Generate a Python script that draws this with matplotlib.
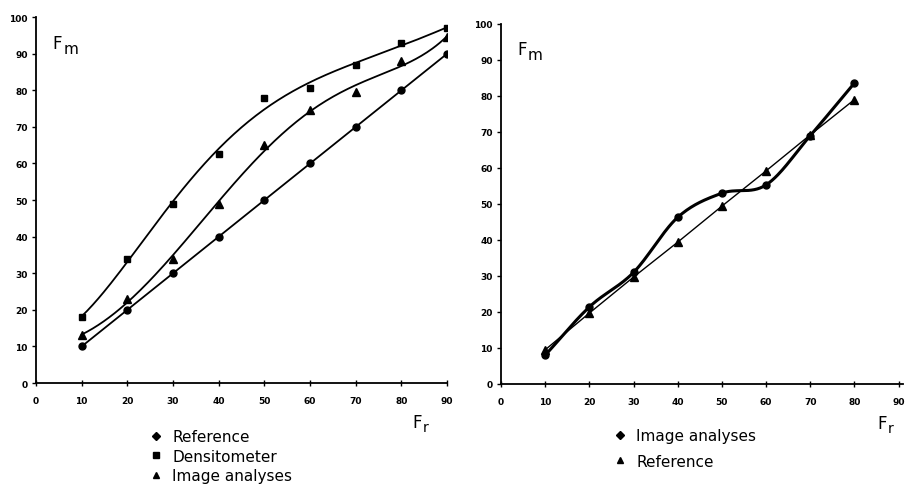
import numpy as np
from matplotlib import pyplot as plt
from matplotlib.lines import Line2D

# left panel
fr = [10, 20, 30, 40, 50, 60, 70, 80, 90]
reference = [10, 20, 30, 40, 50, 60, 70, 80, 90]
densitometer = [18, 34, 49, 62.5, 78, 80.5, 87, 93, 97]
image_left = [13, 23, 34, 49, 65, 74.5, 79.5, 88, 94.5]

# right panel
fr_right = [10, 20, 30, 40, 50, 60, 70, 80]
image_right = [8, 21.4, 31, 46.3, 53, 55.3, 69, 83.6]
reference_right = [9.5, 19.7, 29.7, 39.4, 49.4, 59.2, 69.2, 79]

ticks = [0, 10, 20, 30, 40, 50, 60, 70, 80, 90]
yticks = [0, 10, 20, 30, 40, 50, 60, 70, 80, 90, 100]


def smooth_fit(x, y, deg=5):
    coef = np.polyfit(x, y, deg)
    xs = np.linspace(min(x), max(x), 200)
    return xs, np.polyval(coef, xs)


def catmull_rom(x, y, n=30):
    x = np.asarray(x, float)
    y = np.asarray(y, float)
    px = np.concatenate([[2 * x[0] - x[1]], x, [2 * x[-1] - x[-2]]])
    py = np.concatenate([[2 * y[0] - y[1]], y, [2 * y[-1] - y[-2]]])
    xs, ys = [], []
    for i in range(1, len(px) - 2):
        t = np.linspace(0, 1, n, endpoint=False)
        for p, out in ((px, xs), (py, ys)):
            p0, p1, p2, p3 = p[i - 1], p[i], p[i + 1], p[i + 2]
            out.extend(0.5 * (2 * p1 + (p2 - p0) * t
                              + (2 * p0 - 5 * p1 + 4 * p2 - p3) * t ** 2
                              + (3 * p1 - p0 - 3 * p2 + p3) * t ** 3))
    xs.append(x[-1])
    ys.append(y[-1])
    return np.array(xs), np.array(ys)


def style_axes(ax, xmax):
    ax.set_xlim(0, xmax)
    ax.set_ylim(0, 100)
    ax.set_xticks(ticks)
    ax.set_yticks(yticks)
    for s in ['top', 'right']:
        ax.spines[s].set_visible(False)
    ax.spines['left'].set_linewidth(1.3)
    ax.spines['bottom'].set_linewidth(1.3)
    ax.tick_params(axis='x', direction='inout', length=5, width=1, pad=7)
    ax.tick_params(axis='y', direction='out', length=3, width=1, pad=3)
    for lab in ax.get_xticklabels() + ax.get_yticklabels():
        lab.set_fontsize(6.5)
        lab.set_fontweight('bold')
    ax.text(0.04, 0.93, 'F', transform=ax.transAxes, fontsize=12, ha='left', va='center')
    ax.text(0.067, 0.915, 'm', transform=ax.transAxes, fontsize=11, ha='left', va='center')


fig = plt.figure(figsize=(9.07, 4.89), dpi=100)
ax1 = fig.add_axes([0.0397, 0.2147, 0.4533, 0.7483])
ax2 = fig.add_axes([0.5524, 0.2127, 0.4432, 0.7362])

style_axes(ax1, 90)
style_axes(ax2, 91)

ax1.plot(fr, reference, color='black', lw=1.3, marker='o', ms=5)
xs, ys = smooth_fit(fr, densitometer)
ax1.plot(xs, ys, color='black', lw=1.3)
ax1.plot(fr, densitometer, 's', color='black', ms=5)
xs, ys = smooth_fit(fr, image_left)
ax1.plot(xs, ys, color='black', lw=1.3)
ax1.plot(fr, image_left, '^', color='black', ms=6)

xs, ys = catmull_rom(fr_right, image_right)
ax2.plot(xs, ys, color='black', lw=2.2)
ax2.plot(fr_right, image_right, 'o', color='black', ms=5)
ax2.plot(fr_right, reference_right, color='black', lw=1, marker='^', ms=6)

fig.text(412 / 907, 1 - 423 / 489, 'F', fontsize=12, ha='left', va='center')
fig.text(423 / 907, 1 - 428 / 489, 'r', fontsize=10, ha='left', va='center')
fig.text(877 / 907, 1 - 424 / 489, 'F', fontsize=12, ha='left', va='center')
fig.text(888 / 907, 1 - 429 / 489, 'r', fontsize=10, ha='left', va='center')

h1 = [Line2D([], [], ls='none', marker='D', color='black', ms=4),
      Line2D([], [], ls='none', marker='s', color='black', ms=4.5),
      Line2D([], [], ls='none', marker='^', color='black', ms=5)]
fig.legend(h1, ['Reference', 'Densitometer', 'Image analyses'],
           loc='upper left', bbox_to_anchor=(148 / 907, 1 - 430 / 489),
           frameon=False, fontsize=11, handlelength=1, handletextpad=0.6,
           labelspacing=0.3, borderpad=0, borderaxespad=0)

h2 = [Line2D([], [], ls='none', marker='D', color='black', ms=4),
      Line2D([], [], ls='none', marker='^', color='black', ms=5)]
fig.legend(h2, ['Image analyses', 'Reference'],
           loc='upper left', bbox_to_anchor=(612 / 907, 1 - 429 / 489),
           frameon=False, fontsize=11, handlelength=1, handletextpad=0.6,
           labelspacing=0.7, borderpad=0, borderaxespad=0)

fig.savefig('out.png', dpi=100)
